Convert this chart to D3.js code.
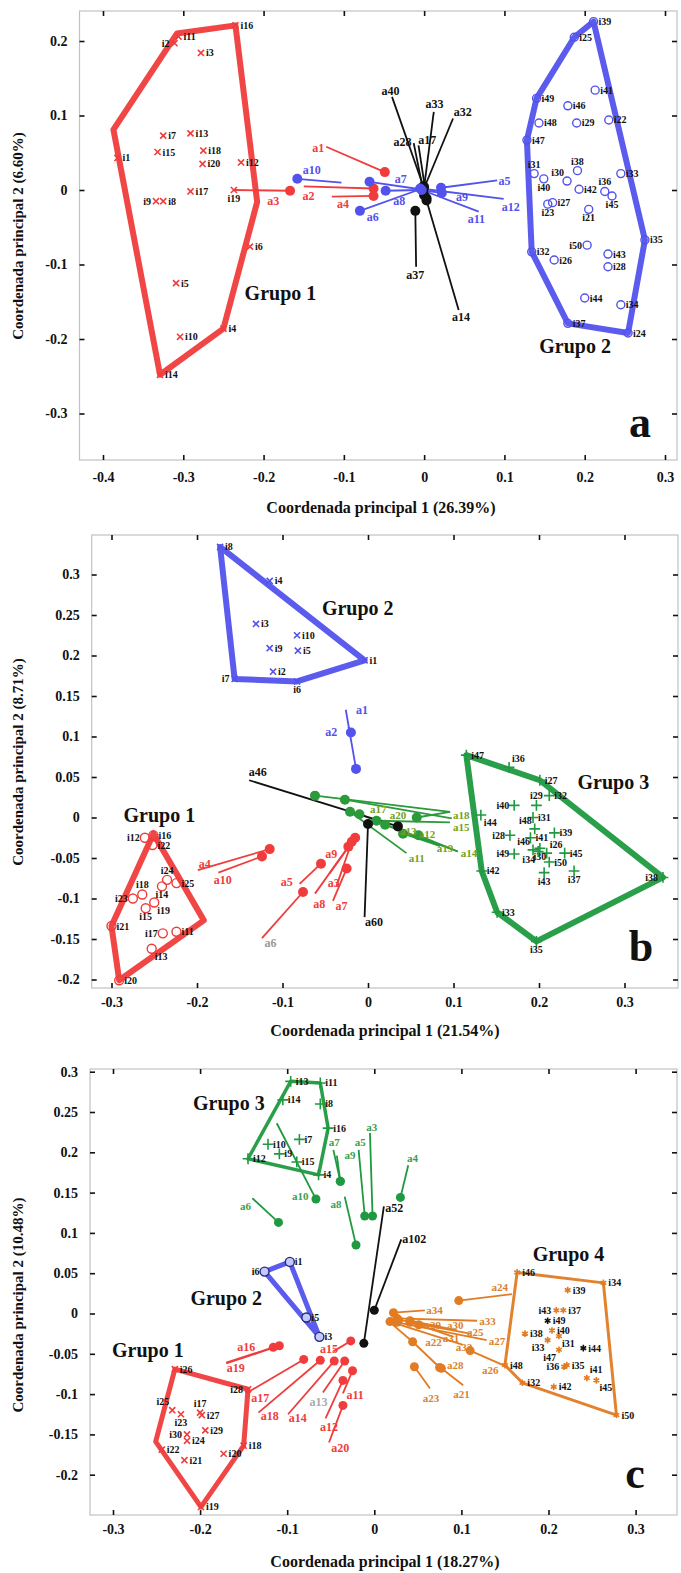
<!DOCTYPE html>
<html>
<head>
<meta charset="utf-8">
<script src="https://cdn.jsdelivr.net/npm/d3@7"></script>
<style>
html, body { margin: 0; padding: 0; background: #fff; }
svg { display: block; }
text { font-family: "Liberation Serif", "Times New Roman", serif; font-weight: bold; }
</style>
</head>
<body>
<svg id="fig" width="681" height="1573"></svg>
<script>
// ---------- Panel a : 20 + 30 individuals, 19 allele vectors ----------
const aXTicks = [-0.4, -0.3, -0.2, -0.1, 0, 0.1, 0.2, 0.3];
const aYTicks = [0.2, 0.1, 0, -0.1, -0.2, -0.3];
const aGroup1 = [
  ["i1",-0.382,0.043],["i2",-0.311,0.197],["i3",-0.278,0.184],["i4",-0.250,-0.186],
  ["i5",-0.309,-0.125],["i6",-0.217,-0.076],["i7",-0.325,0.073],["i8",-0.325,-0.015],
  ["i9",-0.334,-0.015],["i10",-0.304,-0.197],["i11",-0.306,0.206],["i12",-0.228,0.037],
  ["i13",-0.291,0.076],["i14",-0.329,-0.248],["i15",-0.332,0.051],["i16",-0.235,0.221],
  ["i17",-0.291,-0.002],["i18",-0.275,0.053],["i19",-0.237,0.000],["i20",-0.276,0.035]
];
const aHull1 = [[-0.235,0.221],[-0.308,0.210],[-0.387,0.081],[-0.329,-0.248],[-0.250,-0.186],[-0.208,-0.016]];
const aGroup2 = [
  ["i21",0.205,-0.026],["i22",0.230,0.094],["i23",0.154,-0.019],["i24",0.254,-0.192],
  ["i25",0.187,0.205],["i26",0.162,-0.094],["i27",0.160,-0.017],["i28",0.229,-0.103],
  ["i29",0.190,0.090],["i30",0.178,0.012],["i31",0.137,0.022],["i32",0.134,-0.083],
  ["i33",0.245,0.022],["i34",0.245,-0.154],["i35",0.275,-0.067],["i36",0.225,-0.002],
  ["i37",0.179,-0.179],["i38",0.191,0.026],["i39",0.211,0.226],["i40",0.149,0.015],
  ["i41",0.213,0.134],["i42",0.193,0.001],["i43",0.229,-0.086],["i44",0.200,-0.145],
  ["i45",0.234,-0.008],["i46",0.179,0.113],["i47",0.128,0.067],["i48",0.143,0.090],
  ["i49",0.140,0.123],["i50",0.203,-0.074]
];
const aHull2 = [[0.211,0.226],[0.187,0.205],[0.140,0.123],[0.128,0.067],[0.134,-0.083],[0.179,-0.179],[0.254,-0.192],[0.275,-0.067]];
// vectors: name, head (dot) x, y, tail x, y
const aVecRed = [
  ["a1",-0.049,0.024,-0.122,0.058],["a2",-0.063,0.002,-0.150,0.005],
  ["a3",-0.167,-0.001,-0.237,0.000],["a4",-0.063,-0.008,-0.115,-0.009]
];
const aVecBlue = [
  ["a5",0.021,0.003,0.091,0.013],["a6",-0.080,-0.028,-0.005,0.001],["a7",-0.068,0.011,-0.005,0.001],
  ["a8",-0.048,-0.001,-0.005,0.000],["a9",0.022,-0.004,-0.005,0.000],["a10",-0.158,0.015,-0.103,0.010],
  ["a11",-0.003,0.000,0.068,-0.029],["a12",-0.005,0.002,0.099,-0.012]
];
const aVecBlack = [
  ["a14",0.003,-0.014,0.043,-0.161],["a17",0.003,-0.011,-0.007,0.060],["a28",0.000,-0.007,-0.013,0.063],
  ["a32",-0.001,0.000,0.036,0.096],["a33",0.000,0.004,0.012,0.105],["a37",-0.011,-0.028,-0.010,-0.103],
  ["a40",-0.001,0.005,-0.040,0.125]
];
const aVecTags = [
  ["a1",-0.132,0.056],["a2",-0.144,-0.008],["a3",-0.188,-0.014],["a4",-0.101,-0.019],
  ["a5",0.100,0.013],["a6",-0.064,-0.036],["a7",-0.029,0.015],["a8",-0.031,-0.015],
  ["a9",0.047,-0.009],["a10",-0.140,0.027],["a11",0.065,-0.038],["a12",0.108,-0.022],
  ["a14",0.046,-0.170],["a17",0.004,0.067],["a28",-0.027,0.065],["a32",0.048,0.105],
  ["a33",0.013,0.116],["a37",-0.011,-0.114],["a40",-0.042,0.133]
];
const aGroupTags = [["Grupo 1",-0.179,-0.138],["Grupo 2",0.188,-0.210]];

// ---------- Panel b : 25 + 10 + 25 individuals ----------
const bXTicks = [-0.3, -0.2, -0.1, 0, 0.1, 0.2, 0.3];
const bYTicks = [0.3, 0.25, 0.2, 0.15, 0.1, 0.05, 0, -0.05, -0.1, -0.15, -0.2];
const bGroup1 = [
  ["i11",-0.224,-0.141],["i12",-0.261,-0.025],["i13",-0.253,-0.162],["i14",-0.241,-0.085],
  ["i15",-0.260,-0.112],["i16",-0.251,-0.022],["i17",-0.240,-0.143],["i18",-0.264,-0.095],
  ["i19",-0.250,-0.105],["i20",-0.291,-0.201],["i21",-0.300,-0.134],["i22",-0.252,-0.034],
  ["i23",-0.275,-0.100],["i24",-0.235,-0.077],["i25",-0.224,-0.081]
];
const bHull1 = [[-0.251,-0.020],[-0.192,-0.127],[-0.291,-0.201],[-0.300,-0.134]];
const bGroup2 = [
  ["i1",-0.004,0.194],["i2",-0.111,0.180],["i3",-0.131,0.239],["i4",-0.115,0.292],
  ["i5",-0.082,0.206],["i6",-0.083,0.168],["i7",-0.156,0.171],["i8",-0.173,0.334],
  ["i9",-0.115,0.209],["i10",-0.083,0.225]
];
const bHull2 = [[-0.173,0.334],[-0.004,0.194],[-0.083,0.168],[-0.156,0.171]];
const bGroup3 = [
  ["i26",0.209,-0.044],["i27",0.201,0.046],["i28",0.166,-0.022],["i29",0.197,0.015],
  ["i30",0.201,-0.038],["i31",0.193,0.000],["i32",0.212,0.027],["i33",0.151,-0.117],
  ["i34",0.199,-0.042],["i35",0.197,-0.153],["i36",0.165,0.062],["i37",0.241,-0.066],
  ["i38",0.345,-0.074],["i39",0.218,-0.019],["i40",0.171,0.015],["i41",0.190,-0.025],
  ["i42",0.133,-0.066],["i43",0.206,-0.068],["i44",0.132,0.003],["i45",0.230,-0.044],
  ["i46",0.193,-0.040],["i47",0.115,0.077],["i48",0.195,-0.014],["i49",0.171,-0.045],
  ["i50",0.212,-0.055]
];
const bHull3 = [[0.115,0.077],[0.201,0.046],[0.345,-0.074],[0.197,-0.153],[0.151,-0.117],[0.133,-0.066]];
const bVecBlue = [["a1",-0.014,0.060,-0.026,0.133],["a2",-0.020,0.105,-0.023,0.112]];
const bVecRed = [
  ["a3",-0.019,-0.030,-0.037,-0.085],["a4",-0.115,-0.039,-0.199,-0.065],["a5",-0.055,-0.057,-0.080,-0.082],
  ["a6",-0.076,-0.092,-0.124,-0.149],["a7",-0.025,-0.063,-0.041,-0.103],["a8",-0.023,-0.036,-0.062,-0.094],
  ["a9",-0.015,-0.025,-0.045,-0.069],["a10",-0.124,-0.048,-0.175,-0.068]
];
const bVecGreen = [
  ["a11",-0.021,0.007,0.045,-0.044],["a12",0.059,-0.022,0.105,-0.042],["a13",0.041,-0.020,0.084,-0.035],
  ["a14",0.020,-0.009,0.105,-0.042],["a15",0.010,-0.004,0.096,-0.006],["a17",-0.062,0.027,0.096,0.007],
  ["a18",0.057,0.000,0.096,0.007],["a19",-0.010,0.004,0.084,-0.035],["a20",-0.027,0.022,0.098,-0.001]
];
const bVecBlack = [["a46",0.035,-0.011,-0.139,0.046],["a60",0.000,-0.008,-0.004,-0.123]];
const bVecTags = [
  ["a1",-0.007,0.133],["a2",-0.043,0.106],["a3",-0.040,-0.081],["a4",-0.191,-0.057],
  ["a5",-0.095,-0.079],["a6",-0.114,-0.155],["a7",-0.031,-0.109],["a8",-0.057,-0.107],
  ["a9",-0.043,-0.045],["a10",-0.170,-0.077],["a11",0.057,-0.050],["a12",0.069,-0.020],
  ["a13",0.047,-0.017],["a14",0.118,-0.044],["a15",0.109,-0.012],["a17",0.012,0.010],
  ["a18",0.109,0.003],["a19",0.090,-0.038],["a20",0.035,0.003],["a46",-0.129,0.056],
  ["a60",0.007,-0.129]
];
const bGroupTags = [["Grupo 1",-0.244,0.003],["Grupo 2",-0.012,0.259],["Grupo 3",0.287,0.044]];

// ---------- Panel c : 14 + 4 + 11 + 20 individuals ----------
const cXTicks = [-0.3, -0.2, -0.1, 0, 0.1, 0.2, 0.3];
const cYTicks = [0.3, 0.25, 0.2, 0.15, 0.1, 0.05, 0, -0.05, -0.1, -0.15, -0.2];
const cGroup1 = [
  ["i17",-0.200,-0.123],["i18",-0.150,-0.164],["i19",-0.199,-0.240],["i20",-0.173,-0.174],
  ["i21",-0.218,-0.182],["i22",-0.244,-0.169],["i23",-0.222,-0.125],["i24",-0.215,-0.158],
  ["i25",-0.232,-0.120],["i26",-0.229,-0.069],["i27",-0.198,-0.126],["i28",-0.145,-0.094],
  ["i29",-0.194,-0.145],["i30",-0.215,-0.150]
];
const cHull1 = [[-0.229,-0.069],[-0.145,-0.094],[-0.150,-0.164],[-0.199,-0.240],[-0.251,-0.159]];
const cGroup2 = [["i1",-0.097,0.064],["i3",-0.063,-0.029],["i5",-0.078,-0.005],["i6",-0.126,0.052]];
const cHull2 = [[-0.126,0.052],[-0.097,0.064],[-0.063,-0.029]];
const cGroup3 = [
  ["i4",-0.064,0.172],["i7",-0.086,0.216],["i8",-0.062,0.260],["i9",-0.109,0.198],
  ["i10",-0.122,0.210],["i11",-0.062,0.286],["i12",-0.145,0.192],["i13",-0.096,0.288],
  ["i14",-0.105,0.265],["i15",-0.089,0.188],["i16",-0.053,0.230]
];
const cHull3 = [[-0.096,0.288],[-0.062,0.286],[-0.053,0.230],[-0.064,0.172],[-0.145,0.192]];
const cGroup4 = [
  ["i31",0.212,-0.028],["i32",0.170,-0.086],["i33",0.199,-0.033],["i34",0.263,0.038],
  ["i35",0.221,-0.064],["i36",0.218,-0.066],["i37",0.217,0.004],["i38",0.173,-0.025],
  ["i39",0.222,0.029],["i40",0.204,-0.021],["i41",0.244,-0.080],["i42",0.206,-0.091],
  ["i43",0.209,0.004],["i45",0.255,-0.083],["i46",0.164,0.051],["i47",0.212,-0.045],
  ["i48",0.150,-0.064],["i50",0.278,-0.126]
];
const cGroup4Dark = [["i44",0.240,-0.043],["i49",0.199,-0.009]];
const cHull4 = [[0.164,0.051],[0.263,0.038],[0.278,-0.126],[0.170,-0.086],[0.150,-0.064]];
const cVecGreen = [
  ["a3",-0.002,0.121,-0.005,0.224],["a4",0.030,0.144,0.039,0.184],["a5",-0.011,0.121,-0.018,0.203],
  ["a6",-0.110,0.113,-0.140,0.143],["a7",-0.039,0.164,-0.047,0.203],["a8",-0.021,0.085,-0.034,0.145],
  ["a9",-0.039,0.164,-0.043,0.196],["a10",-0.067,0.142,-0.112,0.236]
];
const cVecBlack = [["a52",-0.012,-0.037,0.011,0.133],["a102",0.000,0.004,0.031,0.092]];
const cVecRed = [
  ["a11",-0.025,-0.071,-0.036,-0.099],["a12",-0.036,-0.083,-0.056,-0.130],["a13",-0.034,-0.059,-0.059,-0.098],
  ["a14",-0.046,-0.059,-0.099,-0.125],["a15",-0.027,-0.034,-0.047,-0.047],["a16",-0.116,-0.042,-0.170,-0.061],
  ["a17",-0.081,-0.057,-0.147,-0.099],["a18",-0.062,-0.058,-0.133,-0.123],["a19",-0.109,-0.040,-0.170,-0.062],
  ["a20",-0.036,-0.114,-0.052,-0.160]
];
const cVecOrange = [
  ["a21",0.077,-0.068,0.102,-0.089],["a22",0.044,-0.035,0.018,-0.011],["a23",0.046,-0.066,0.064,-0.093],
  ["a24",0.097,0.016,0.158,0.024],["a25",0.041,-0.011,0.110,-0.025],["a26",0.110,-0.046,0.148,-0.064],
  ["a27",0.026,-0.011,0.129,-0.033],["a28",0.075,-0.067,0.045,-0.036],["a29",0.028,-0.008,0.075,-0.016],
  ["a30",0.041,-0.009,0.095,-0.021],["a31",0.051,-0.014,0.091,-0.029],["a32",0.018,-0.010,0.102,-0.039],
  ["a33",0.026,-0.006,0.118,-0.009],["a34",0.022,0.001,0.058,0.004]
];
const cVecTags = [
  ["a3",-0.003,0.231],["a4",0.044,0.193],["a5",-0.016,0.213],["a6",-0.148,0.133],
  ["a7",-0.046,0.212],["a8",-0.044,0.136],["a9",-0.028,0.197],["a10",-0.085,0.146],
  ["a52",0.023,0.131],["a102",0.046,0.093],
  ["a11",-0.022,-0.101],["a12",-0.052,-0.141],["a13",-0.064,-0.109],["a14",-0.088,-0.129],
  ["a15",-0.052,-0.044],["a16",-0.147,-0.041],["a17",-0.131,-0.105],["a18",-0.120,-0.127],
  ["a19",-0.159,-0.067],["a20",-0.039,-0.167],
  ["a21",0.100,-0.100],["a22",0.068,-0.035],["a23",0.065,-0.105],["a24",0.144,0.033],
  ["a25",0.116,-0.023],["a26",0.133,-0.070],["a27",0.141,-0.034],["a28",0.093,-0.064],
  ["a29",0.067,-0.014],["a30",0.093,-0.014],["a31",0.088,-0.030],["a32",0.103,-0.042],
  ["a33",0.130,-0.009],["a34",0.069,0.004]
];
const cGroupTags = [["Grupo 1",-0.260,-0.045],["Grupo 2",-0.170,0.019],["Grupo 3",-0.167,0.261],["Grupo 4",0.223,0.074]];

// ---------- drawing ----------
const RED = "#f03c3c", BLUE = "#5252ec", GREEN = "#1f9a40", ORANGE = "#e27b22", INK = "#111";
const svg = d3.select("#fig");
const fmt = v => Math.abs(v) < 1e-9 ? "0" : String(+v.toFixed(2));

// label offsets around a marker (pixels)
const SIDE = {
  r: [5, 3.5, "start"], l: [-5, 3.5, "end"], a: [0, -6, "middle"], b: [0, 12, "middle"],
  al: [-3, -5, "end"], ar: [3, -5, "start"], bl: [-3, 11, "end"], br: [3, 11, "start"]
};

function drawPanel(p) {
  const x = d3.scaleLinear().domain(p.xCal).range(p.xPx);
  const y = d3.scaleLinear().domain(p.yCal).range(p.yPx);
  const f = p.frame;
  const g = svg.append("g");

  g.append("rect").attr("x", f.l).attr("y", f.t).attr("width", f.r - f.l).attr("height", f.b - f.t)
    .attr("fill", "none").attr("stroke", "#c2c2c2").attr("stroke-width", 1.2);

  const styleAxis = sel => {
    sel.select(".domain").remove();
    sel.selectAll(".tick line").attr("stroke", INK).attr("stroke-width", 1.6);
    sel.selectAll(".tick text").attr("fill", INK).style("font-size", "14px");
  };
  g.append("g").attr("transform", `translate(0,${f.b})`)
    .call(d3.axisBottom(x).tickValues(p.xTicks).tickSize(-5).tickPadding(p.xPad).tickFormat(fmt)).call(styleAxis);
  g.append("g").attr("transform", `translate(0,${f.t})`)
    .call(d3.axisTop(x).tickValues(p.xTicks).tickSize(-5).tickFormat(() => "")).call(styleAxis);
  g.append("g").attr("transform", `translate(${f.l},0)`)
    .call(d3.axisLeft(y).tickValues(p.yTicks).tickSize(-5).tickPadding(12).tickFormat(fmt)).call(styleAxis);
  g.append("g").attr("transform", `translate(${f.r},0)`)
    .call(d3.axisRight(y).tickValues(p.yTicks).tickSize(-5).tickFormat(() => "")).call(styleAxis);

  g.append("text").attr("x", p.xTitle[0]).attr("y", p.xTitle[1]).attr("text-anchor", "middle")
    .attr("fill", INK).style("font-size", "16px").text(p.xTitleText);
  g.append("text").attr("transform", `translate(${p.yTitle[0]},${p.yTitle[1]}) rotate(-90)`)
    .attr("text-anchor", "middle").attr("dy", "0.35em").attr("fill", INK).style("font-size", "15px").text(p.yTitleText);

  const hullPath = d3.line().x(d => x(d[0])).y(d => y(d[1])).curve(d3.curveLinearClosed);
  p.groups.forEach(gr => {
    g.append("path").attr("d", hullPath(gr.hull)).attr("fill", "none")
      .attr("stroke", gr.color).attr("stroke-width", gr.hullWidth)
      .attr("stroke-linejoin", "round").attr("stroke-opacity", 0.95);
  });

  // vectors: line first, then the dot on top
  p.vectors.forEach(v => {
    g.selectAll(null).data(v.rows).join("line")
      .attr("x1", d => x(d[1])).attr("y1", d => y(d[2]))
      .attr("x2", d => x(d[3])).attr("y2", d => y(d[4]))
      .attr("stroke", v.color).attr("stroke-width", 1.8);
  });
  p.vectors.forEach(v => {
    g.selectAll(null).data(v.rows).join("circle")
      .attr("cx", d => x(d[1])).attr("cy", d => y(d[2])).attr("r", p.dotR)
      .attr("fill", v.color);
  });

  // individuals
  p.groups.forEach(gr => {
    gr.sets.forEach(set => {
      set.pts.forEach(pt => {
        const cx = x(pt[1]), cy = y(pt[2]);
        if (gr.mark === "o") {
          g.append("circle").attr("cx", cx).attr("cy", cy).attr("r", gr.r || 4)
            .attr("fill", gr.fill || "none").attr("stroke", set.color).attr("stroke-width", 1.4);
        } else {
          const sym = gr.mark === "x" ? d3.symbolTimes : gr.mark === "+" ? d3.symbolPlus : d3.symbolAsterisk;
          g.append("path").attr("transform", `translate(${cx},${cy})`)
            .attr("d", d3.symbol(sym, gr.size || 26)()).attr("fill", "none")
            .attr("stroke", set.color).attr("stroke-width", 1.6);
        }
        const s = SIDE[(p.sides && p.sides[pt[0]]) || "r"];
        g.append("text").attr("x", cx + s[0]).attr("y", cy + s[1]).attr("text-anchor", s[2])
          .attr("fill", INK).style("font-size", "10px").text(pt[0]);
      });
    });
  });

  // vector names
  const tagColor = {}, tagSize = {};
  p.vectors.forEach(v => v.rows.forEach(r => {
    tagColor[r[0]] = (v.tagColors && v.tagColors[r[0]]) || v.tagColor || v.color;
    tagSize[r[0]] = v.tagSize || 12;
  }));
  g.selectAll(null).data(p.vecTags).join("text")
    .attr("x", d => x(d[1])).attr("y", d => y(d[2])).attr("dy", "0.35em")
    .attr("text-anchor", "middle").attr("fill", d => tagColor[d[0]])
    .style("font-size", d => tagSize[d[0]] + "px").text(d => d[0]);

  // group names
  g.selectAll(null).data(p.groupTags).join("text")
    .attr("x", d => x(d[1])).attr("y", d => y(d[2])).attr("dy", "0.35em")
    .attr("text-anchor", "middle").attr("fill", INK).style("font-size", "20px").text(d => d[0]);

  g.append("text").attr("x", p.letter[1]).attr("y", p.letter[2]).attr("text-anchor", "middle")
    .attr("fill", INK).style("font-size", "44px").text(p.letter[0]);
}

drawPanel({
  frame: { l: 79.5, r: 677, t: 11, b: 460 },
  xCal: [-0.4, 0.3], xPx: [103, 665], yCal: [0.2, -0.3], yPx: [41, 413.5],
  xTicks: aXTicks, yTicks: aYTicks, xPad: 12,
  xTitle: [381, 513], xTitleText: "Coordenada principal 1 (26.39%)",
  yTitle: [18, 236], yTitleText: "Coordenada principal 2 (6.60%)",
  dotR: 5,
  groups: [
    { hull: aHull1, color: RED, hullWidth: 6, mark: "x", sets: [{ pts: aGroup1, color: RED }] },
    { hull: aHull2, color: BLUE, hullWidth: 6, mark: "o", sets: [{ pts: aGroup2, color: BLUE }] }
  ],
  vectors: [
    { rows: aVecBlack, color: INK },
    { rows: aVecRed, color: RED },
    { rows: aVecBlue, color: BLUE }
  ],
  sides: { i2: "l", i9: "l", i19: "b", i31: "a", i40: "b", i38: "a", i30: "al", i36: "a", i45: "b", i23: "b", i21: "b", i50: "l" },
  vecTags: aVecTags, groupTags: aGroupTags, letter: ["a", 640, 437]
});

drawPanel({
  frame: { l: 91.7, r: 678, t: 535, b: 988 },
  xCal: [-0.3, 0.3], xPx: [111.5, 624.5], yCal: [0.3, -0.2], yPx: [574.5, 979.5],
  xTicks: bXTicks, yTicks: bYTicks, xPad: 9,
  xTitle: [385, 1036], xTitleText: "Coordenada principal 1 (21.54%)",
  yTitle: [18, 762], yTitleText: "Coordenada principal 2 (8.71%)",
  dotR: 5,
  groups: [
    { hull: bHull1, color: RED, hullWidth: 6, mark: "o", r: 4.5, sets: [{ pts: bGroup1, color: RED }] },
    { hull: bHull2, color: BLUE, hullWidth: 6, mark: "x", sets: [{ pts: bGroup2, color: BLUE }] },
    { hull: bHull3, color: GREEN, hullWidth: 6, mark: "+", size: 40, sets: [{ pts: bGroup3, color: GREEN }] }
  ],
  vectors: [
    { rows: bVecGreen, color: "#2a9a3a", tagColor: "#74a020", tagSize: 11 },
    { rows: bVecBlack, color: INK },
    { rows: bVecRed, color: RED, tagColors: { a6: "#999" } },
    { rows: bVecBlue, color: BLUE }
  ],
  sides: { i7: "l", i6: "b", i12: "l", i24: "a", i14: "b", i18: "a", i23: "l", i15: "b", i17: "l", i13: "br",
           i19: "br", i29: "a", i40: "l", i44: "br", i48: "al", i28: "l", i46: "al", i26: "ar", i49: "l", i34: "bl",
           i30: "b", i43: "b", i37: "b", i38: "l", i35: "b", i36: "ar" },
  vecTags: bVecTags, groupTags: bGroupTags, letter: ["b", 641, 961]
});

drawPanel({
  frame: { l: 90, r: 677, t: 1069, b: 1515 },
  xCal: [-0.3, 0.3], xPx: [113, 635.6], yCal: [0.3, -0.2], yPx: [1071.7, 1474.7],
  xTicks: cXTicks, yTicks: cYTicks, xPad: 9,
  xTitle: [385, 1567], xTitleText: "Coordenada principal 1 (18.27%)",
  yTitle: [18, 1305], yTitleText: "Coordenada principal 2 (10.48%)",
  dotR: 4.5,
  groups: [
    { hull: cHull3, color: GREEN, hullWidth: 3.5, mark: "+", size: 40, sets: [{ pts: cGroup3, color: GREEN }] },
    { hull: cHull2, color: BLUE, hullWidth: 5, mark: "o", r: 4.5, fill: "#c3c8ff", sets: [{ pts: cGroup2, color: "#23287a" }] },
    { hull: cHull1, color: RED, hullWidth: 5, mark: "x", sets: [{ pts: cGroup1, color: RED }] },
    { hull: cHull4, color: ORANGE, hullWidth: 3, mark: "*", size: 30,
      sets: [{ pts: cGroup4, color: ORANGE }, { pts: cGroup4Dark, color: INK }] }
  ],
  vectors: [
    { rows: cVecGreen, color: GREEN, tagColor: "#3aa04c", tagSize: 11 },
    { rows: cVecOrange, color: ORANGE, tagColor: "#d9822e", tagSize: 11 },
    { rows: cVecRed, color: RED, tagColors: { a13: "#aaa" } },
    { rows: cVecBlack, color: INK }
  ],
  sides: { i6: "l", i28: "l", i25: "al", i23: "b", i17: "a", i30: "l", i43: "l", i33: "bl", i47: "bl",
           i36: "l", i31: "br", i41: "ar", i45: "br" },
  vecTags: cVecTags, groupTags: cGroupTags, letter: ["c", 635, 1488]
});
</script>
</body>
</html>
